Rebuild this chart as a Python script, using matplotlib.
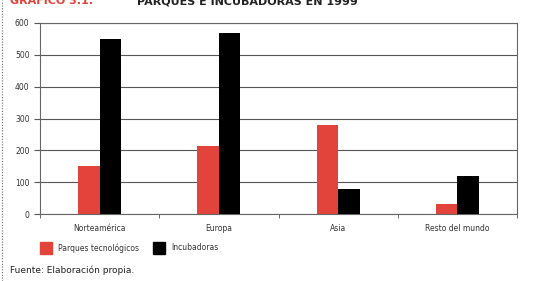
import matplotlib.pyplot as plt
import numpy as np

categories = ["Norteamérica", "Europa", "Asia", "Resto del mundo"]
parques = [150, 215, 280, 30]
incubadoras = [550, 570, 80, 120]
yticks = [0, 100, 200, 300, 400, 500, 600]

RED = "#e2433a"

fig = plt.figure(figsize=(5.37, 2.81), dpi=100)
ax = fig.add_axes([40 / 537, 1 - 214 / 281, 477 / 537, 191 / 281])

x = np.arange(len(categories))
w = 0.18
ax.bar(x - w / 2, parques, w, color=RED, zorder=3, label="Parques tecnológicos")
ax.bar(x + w / 2, incubadoras, w, color="black", zorder=3, label="Incubadoras")

ax.set_xlim(-0.5, len(categories) - 0.5)
ax.set_ylim(0, 600)
ax.set_yticks(yticks)
ax.yaxis.grid(True, color="#555555", linewidth=0.8, zorder=0)
ax.set_xticks(x)
ax.set_xticklabels(categories)
ax.set_xticks(np.arange(len(categories) + 1) - 0.5, minor=True)
ax.tick_params(axis="x", which="major", length=0, labelsize=5.5, pad=7, colors="#333333")
ax.tick_params(axis="x", which="minor", length=3, direction="out", color="#555555")
ax.tick_params(axis="y", labelsize=5.5, length=4, color="#555555", labelcolor="#333333")
for s in ax.spines.values():
    s.set_color("#666666")
    s.set_linewidth(0.8)

# legend
fig.patches.append(plt.Rectangle((40 / 537, 1 - 254 / 281), 12 / 537, 12 / 281,
                                 transform=fig.transFigure, color=RED))
fig.text(58 / 537, 1 - 248 / 281, "Parques tecnológicos", fontsize=5.5, va="center", color="#333333")
fig.patches.append(plt.Rectangle((153 / 537, 1 - 254 / 281), 12 / 537, 12 / 281,
                                 transform=fig.transFigure, color="black"))
fig.text(171 / 537, 1 - 248 / 281, "Incubadoras", fontsize=5.5, va="center", color="#333333")

# titles (clipped at top edge as in original)
fig.text(10 / 537, 1 - 1 / 281, "GRÁFICO 3.1.", fontsize=8, fontweight="bold", color=RED, va="center")
fig.text(137 / 537, 1 - 1 / 281, "PARQUES E INCUBADORAS EN 1999", fontsize=8, fontweight="bold",
         color="#222222", va="center")
fig.text(10 / 537, 1 - 270 / 281, "Fuente: Elaboración propia.", fontsize=6.5, va="center", color="#222222")

# dotted left border
fig.add_artist(plt.Line2D([2 / 537, 2 / 537], [0, 1], transform=fig.transFigure,
                          color="#666666", linestyle=(0, (1, 1.5)), linewidth=0.8))

fig.savefig("out.png", dpi=100)
